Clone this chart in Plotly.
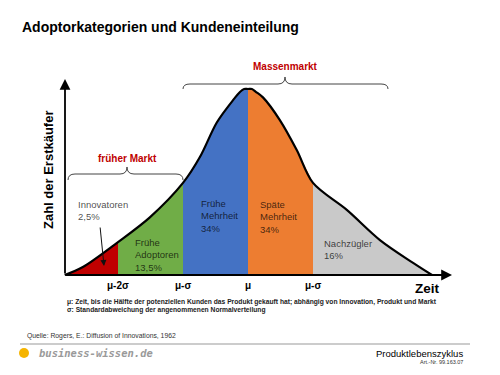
import plotly.graph_objects as go

# ---------------- data ----------------
# curve of first buyers over time, x in sigma units relative to mu, y relative height
curve_x = [-2.82, -2.54, -2.0, -1.51, -1.0, -0.74, -0.48, -0.23, -0.12, -0.06, 0.0, 0.06, 0.12, 0.23, 0.49, 0.75, 1.0, 1.52, 2.03, 2.54, 2.83]
curve_y = [0.0, 0.043, 0.177, 0.31, 0.495, 0.634, 0.82, 0.94, 0.985, 1.0, 1.0, 1.0, 0.985, 0.955, 0.833, 0.672, 0.495, 0.35, 0.188, 0.065, 0.0]

segment_bounds = [(-2.82, -2.0), (-2.0, -1.0), (-1.0, 0.0), (0.0, 1.0), (1.0, 2.83)]
segment_names = ["Innovatoren", "Frühe<br>Adoptoren", "Frühe<br>Mehrheit", "Späte<br>Mehrheit", "Nachzügler"]
segment_shares = ["2,5%", "13,5%", "34%", "34%", "16%"]
segment_colors = ["#C00000", "#70AD47", "#4472C4", "#ED7D31", "#C9C9C9"]

tick_vals = [-2, -1, 0, 1]
tick_text = ["μ-2σ", "μ-σ", "μ", "μ-σ"]

FONT = "Liberation Sans, Arial, sans-serif"
W, H = 500, 375

# pixel -> data mapping helpers (layout only)
def X(px):
    return (px - 248) / 65.0

def Y(py):
    return (275 - py) / 186.0

fig = go.Figure()

# coloured segments
for (a, b), col in zip(segment_bounds, segment_colors):
    xs = [x for x in curve_x if a - 1e-9 <= x <= b + 1e-9]
    ys = [curve_y[curve_x.index(x)] for x in xs]
    fig.add_trace(go.Scatter(x=xs, y=ys, mode="lines", fill="tozeroy",
                             fillcolor=col, line=dict(width=0, shape="spline", smoothing=0.9),
                             hoverinfo="skip", showlegend=False))

# outline
fig.add_trace(go.Scatter(x=curve_x, y=curve_y, mode="lines",
                         line=dict(color="black", width=2.2, shape="spline", smoothing=0.9),
                         hoverinfo="skip", showlegend=False))

fig.update_layout(
    width=W, height=H, margin=dict(l=0, r=0, t=0, b=0),
    paper_bgcolor="white", plot_bgcolor="white",
    xaxis=dict(range=[X(0), X(W)], visible=False, fixedrange=True),
    yaxis=dict(range=[Y(H), Y(0)], visible=False, fixedrange=True),
    font=dict(family=FONT, color="black"),
)

ann = []

def txt(px, py, text, size, bold=False, color="black", xanchor="left", yanchor="middle", **kw):
    t = f"<b>{text}</b>" if bold else text
    ann.append(dict(x=px / W, y=1 - py / H, xref="paper", yref="paper", text=t,
                    showarrow=False, xanchor=xanchor, yanchor=yanchor,
                    font=dict(size=size, color=color, family=kw.pop("family", FONT)), **kw))

# axes arrows
ann.append(dict(x=X(65), y=Y(79), ax=0, ay=196, xref="x", yref="y", axref="pixel", ayref="pixel",
                text="", showarrow=True, arrowhead=2, arrowsize=1.2, arrowwidth=1.8, arrowcolor="black"))
ann.append(dict(x=X(452), y=Y(275), ax=-388, ay=0, xref="x", yref="y",
                text="", showarrow=True, arrowhead=2, arrowsize=1.2, arrowwidth=1.8, arrowcolor="black"))

# title
txt(20, 27, "Adoptorkategorien und Kundeneinteilung", 14, bold=True)

# y axis title
ann.append(dict(x=48 / W, y=1 - 170 / H, xref="paper", yref="paper", text="<b>Zahl der Erstkäufer</b>",
                showarrow=False, textangle=-90, xanchor="center", yanchor="middle",
                font=dict(size=13, family=FONT, color="black")))

# market labels
txt(285, 67, "Massenmarkt", 10, bold=True, color="#C00000", xanchor="center")
txt(127, 159, "früher Markt", 10, bold=True, color="#C00000", xanchor="center")

# braces
def brace(x1, x2, xm, yb, ye, yt, r=7):
    def p(px, py):
        return f"{px / W:.5f},{1 - py / H:.5f}"
    return ("M " + p(x1, ye) + " Q " + p(x1, yb) + " " + p(x1 + r, yb) +
            " L " + p(xm - r, yb) + " Q " + p(xm, yb) + " " + p(xm, yt) +
            " Q " + p(xm, yb) + " " + p(xm + r, yb) +
            " L " + p(x2 - r, yb) + " Q " + p(x2, yb) + " " + p(x2, ye))

shapes = [
    dict(type="path", xref="paper", yref="paper", path=brace(183, 388, 285, 84, 89, 77),
         line=dict(color="#444", width=1)),
    dict(type="path", xref="paper", yref="paper", path=brace(68, 183, 127, 174, 180, 167),
         line=dict(color="#444", width=1)),
    dict(type="line", xref="paper", yref="paper", x0=20 / W, x1=470 / W, y0=1 - 344 / H, y1=1 - 344 / H,
         line=dict(color="#999999", width=1)),
    dict(type="circle", xref="paper", yref="paper", x0=19 / W, x1=29 / W, y0=1 - 358 / H, y1=1 - 348 / H,
         fillcolor="#F5B400", line=dict(width=0)),
]

# segment labels
label_pos = [(76, 210), (133, 255), (199, 216), (258, 217), (322, 249)]
for (px, py), name, share in zip(label_pos, segment_names, segment_shares):
    txt(px, py, f"{name}<br>{share}", 9.5, color="rgba(0,0,0,0.72)", align="left")

# Innovatoren arrow
ann.append(dict(x=X(104), y=Y(266), ax=X(100), ay=Y(226), xref="x", yref="y", axref="x", ayref="y",
                text="", showarrow=True, arrowhead=2, arrowsize=1.2, arrowwidth=1.0, arrowcolor="#111"))

# tick labels
for v, t in zip(tick_vals, tick_text):
    ann.append(dict(x=v, y=1 - 285 / H, xref="x", yref="paper", text=f"<b>{t}</b>", showarrow=False,
                    xanchor="center", yanchor="middle",
                    font=dict(size=10, family=FONT, color="black")))
txt(427, 288, "Zeit", 13.5, bold=True, xanchor="center")

# footnotes
txt(65, 302, "μ: Zeit, bis die Hälfte der potenziellen Kunden das Produkt gekauft hat; abhängig von Innovation, Produkt und Markt", 6.7, bold=True, color="#222")
txt(65, 310, "σ: Standardabweichung der angenommenen Normalverteilung", 6.7, bold=True, color="#222")
txt(25, 336, "Quelle: Rogers, E.: Diffusion of Innovations, 1962", 6.8, color="#333")

# footer
txt(37, 353, "<b><i>business-wissen.de</i></b>", 10.5, color="#9a9a9a", family="DejaVu Sans Mono, monospace")
txt(465, 353, "Produktlebenszyklus", 9.5, xanchor="right")
txt(465, 362, "Art.-Nr. 99.163.07", 5.5, xanchor="right", color="#333")

fig.update_layout(annotations=ann, shapes=shapes)
fig.write_html("out.html")
